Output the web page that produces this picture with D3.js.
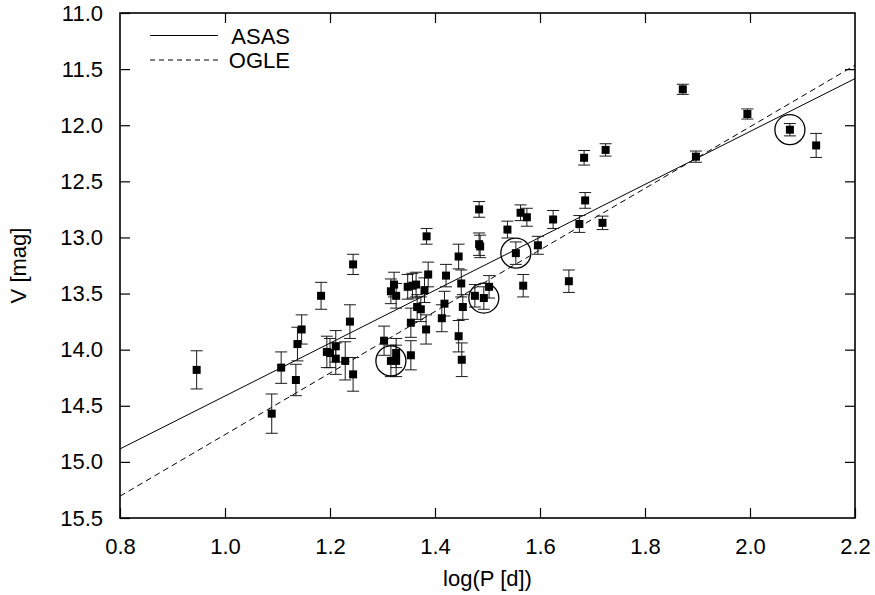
<!DOCTYPE html>
<html>
<head>
<meta charset="utf-8">
<script src="https://cdn.jsdelivr.net/npm/d3@7"></script>
<style>
  body { margin: 0; background: #fff; }
  svg { display: block; }
  text { font-family: 'Liberation Sans', Arial, sans-serif; fill: #000; }
</style>
</head>
<body>
<div id="chart"></div>
<script>
// log(P [d]) of every star
const logP = [
  0.946, 1.089, 1.107, 1.135, 1.138, 1.146, 1.183, 1.194, 1.200, 1.211,
  1.211, 1.229, 1.238, 1.244, 1.244, 1.303, 1.316, 1.316, 1.322, 1.326,
  1.326, 1.326, 1.348, 1.354, 1.354, 1.357, 1.364, 1.366, 1.373, 1.380,
  1.383, 1.384, 1.387, 1.413, 1.418, 1.421, 1.445, 1.445, 1.450, 1.453,
  1.451, 1.476, 1.484, 1.484, 1.486, 1.493, 1.503, 1.538, 1.554, 1.563,
  1.575, 1.568, 1.596, 1.625, 1.655, 1.675, 1.684, 1.686, 1.719, 1.725,
  1.872, 1.897, 1.995, 2.076, 2.126
];
// V [mag]
const vMag = [
  14.18, 14.57, 14.16, 14.27, 13.95, 13.82, 13.52, 14.02, 14.03, 13.97,
  14.08, 14.10, 13.75, 13.24, 14.22, 13.92, 13.48, 14.10, 13.42, 13.52,
  14.03, 14.10, 13.44, 13.76, 14.05, 13.43, 13.42, 13.62, 13.64, 13.47,
  13.82, 12.99, 13.33, 13.72, 13.59, 13.34, 13.17, 13.88, 13.41, 13.62,
  14.09, 13.52, 12.75, 13.06, 13.08, 13.54, 13.44, 12.93, 13.14, 12.78,
  12.82, 13.43, 13.07, 12.84, 13.39, 12.88, 12.29, 12.67, 12.87, 12.22,
  11.68, 12.28, 11.90, 12.04, 12.18
];
// V errors [mag]
const vErr = [
  0.17, 0.175, 0.14, 0.14, 0.15, 0.13, 0.12, 0.14, 0.13, 0.14,
  0.14, 0.17, 0.15, 0.09, 0.15, 0.13, 0.11, 0.14, 0.11, 0.11,
  0.13, 0.14, 0.11, 0.13, 0.13, 0.11, 0.11, 0.11, 0.11, 0.11,
  0.13, 0.07, 0.11, 0.12, 0.11, 0.10, 0.11, 0.14, 0.12, 0.11,
  0.15, 0.10, 0.07, 0.10, 0.10, 0.10, 0.10, 0.075, 0.10, 0.07,
  0.08, 0.10, 0.08, 0.08, 0.10, 0.075, 0.065, 0.07, 0.06, 0.055,
  0.045, 0.05, 0.045, 0.055, 0.107
];
// circled stars
const circledLogP = [1.316, 1.493, 1.554, 2.076];
const circledV = [14.10, 13.54, 13.14, 12.04];

// fits V = a + b * logP
const fitNames = ['ASAS', 'OGLE'];
const fitA = [16.77, 17.50];
const fitB = [-2.357, -2.743];

const xTicks = [0.8, 1.0, 1.2, 1.4, 1.6, 1.8, 2.0, 2.2];
const yTicks = [11.0, 11.5, 12.0, 12.5, 13.0, 13.5, 14.0, 14.5, 15.0, 15.5];

const width = 875;
const height = 595;
const margin = { top: 13, right: 20, bottom: 77, left: 120 };
const innerW = width - margin.left - margin.right;
const innerH = height - margin.top - margin.bottom;
const fontSize = 22;
const tickLen = 10;

const svg = d3.select('#chart')
  .append('svg')
  .attr('width', width)
  .attr('height', height);

const x = d3.scaleLinear().domain([0.8, 2.2]).range([0, innerW]);
const y = d3.scaleLinear().domain([11, 15.5]).range([0, innerH]);

const g = svg.append('g')
  .attr('transform', `translate(${margin.left},${margin.top})`);

svg.append('defs').append('clipPath')
  .attr('id', 'plotClip')
  .append('rect')
  .attr('width', innerW)
  .attr('height', innerH);

/* 坐标轴: 刻度朝内, 四边都有 */
function styleAxis(sel, showLabels) {
  sel.select('.domain').remove();
  sel.selectAll('.tick line').attr('stroke', '#000').attr('stroke-width', 1.2);
  if (!showLabels) sel.selectAll('.tick text').remove();
  sel.selectAll('.tick text').style('font-size', `${fontSize}px`);
}

g.append('g')
  .attr('transform', `translate(0,${innerH})`)
  .call(d3.axisBottom(x).tickValues(xTicks).tickFormat(d3.format('.1f'))
    .tickSizeInner(-tickLen).tickSizeOuter(0).tickPadding(20))
  .call(sel => styleAxis(sel, true));

g.append('g')
  .call(d3.axisTop(x).tickValues(xTicks.slice(1, -1)).tickSizeInner(-tickLen).tickSizeOuter(0))
  .call(sel => styleAxis(sel, false));

g.append('g')
  .call(d3.axisLeft(y).tickValues(yTicks).tickFormat(d3.format('.1f'))
    .tickSizeInner(-tickLen).tickSizeOuter(0).tickPadding(17))
  .call(sel => styleAxis(sel, true));

g.append('g')
  .attr('transform', `translate(${innerW},0)`)
  .call(d3.axisRight(y).tickValues(yTicks.slice(1, -1)).tickSizeInner(-tickLen).tickSizeOuter(0))
  .call(sel => styleAxis(sel, false));

// 坐标框
g.append('rect')
  .attr('width', innerW)
  .attr('height', innerH)
  .attr('fill', 'none')
  .attr('stroke', '#000')
  .attr('stroke-width', 1.6);

// 轴标题
svg.append('text')
  .attr('x', margin.left + innerW / 2)
  .attr('y', 586)
  .attr('text-anchor', 'middle')
  .style('font-size', `${fontSize}px`)
  .text('log(P [d])');

svg.append('text')
  .attr('transform', `translate(26,${margin.top + innerH / 2}) rotate(-90)`)
  .attr('text-anchor', 'middle')
  .style('font-size', `${fontSize}px`)
  .text('V [mag]');

/* 拟合直线 */
const dashes = [null, '6,4'];
const fitGroup = g.append('g').attr('clip-path', 'url(#plotClip)');
fitNames.forEach(function (name, i) {
  const ends = [0.8, 2.2];
  fitGroup.append('line')
    .attr('x1', x(ends[0]))
    .attr('y1', y(fitA[i] + fitB[i] * ends[0]))
    .attr('x2', x(ends[1]))
    .attr('y2', y(fitA[i] + fitB[i] * ends[1]))
    .attr('stroke', '#000')
    .attr('stroke-width', 1)
    .attr('stroke-dasharray', dashes[i]);
});

/* 误差棒 + 数据点 */
const pts = logP.map(function (p, i) {
  return { p: p, v: vMag[i], e: vErr[i] };
});
const capW = 6;
const sq = 8;

const bars = g.append('g').attr('class', 'errorbars')
  .selectAll('g')
  .data(pts)
  .enter()
  .append('g')
  .attr('stroke', '#1a1a1a')
  .attr('stroke-width', 1);

bars.append('line')
  .attr('x1', d => x(d.p)).attr('x2', d => x(d.p))
  .attr('y1', d => y(d.v - d.e)).attr('y2', d => y(d.v + d.e));
bars.append('line')
  .attr('x1', d => x(d.p) - capW).attr('x2', d => x(d.p) + capW)
  .attr('y1', d => y(d.v - d.e)).attr('y2', d => y(d.v - d.e));
bars.append('line')
  .attr('x1', d => x(d.p) - capW).attr('x2', d => x(d.p) + capW)
  .attr('y1', d => y(d.v + d.e)).attr('y2', d => y(d.v + d.e));

g.append('g')
  .selectAll('rect')
  .data(pts)
  .enter()
  .append('rect')
  .attr('x', d => x(d.p) - sq / 2)
  .attr('y', d => y(d.v) - sq / 2)
  .attr('width', sq)
  .attr('height', sq)
  .attr('fill', '#000');

// 圈出的点
g.append('g')
  .selectAll('circle')
  .data(circledLogP)
  .enter()
  .append('circle')
  .attr('cx', d => x(d))
  .attr('cy', (d, i) => y(circledV[i]))
  .attr('r', 15)
  .attr('fill', 'none')
  .attr('stroke', '#000')
  .attr('stroke-width', 1.3);

/* 图例 */
const legend = svg.append('g').attr('class', 'legend');
const legendY = [35.5, 60];
fitNames.forEach(function (name, i) {
  legend.append('line')
    .attr('x1', 150).attr('x2', 218)
    .attr('y1', legendY[i]).attr('y2', legendY[i])
    .attr('stroke', '#000')
    .attr('stroke-width', 1)
    .attr('stroke-dasharray', i === 1 ? '5,4' : null);
  legend.append('text')
    .attr('x', 290)
    .attr('y', legendY[i] + 8)
    .attr('text-anchor', 'end')
    .style('font-size', `${fontSize}px`)
    .text(name);
});
</script>
</body>
</html>
